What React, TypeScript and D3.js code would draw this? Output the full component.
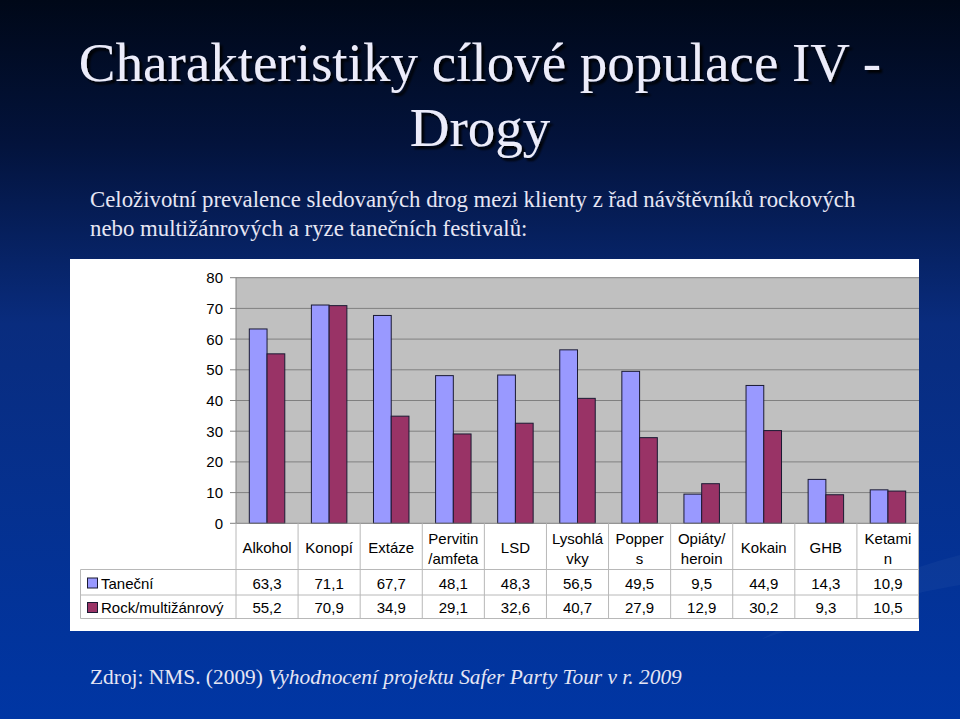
import React, { useEffect, useRef } from "react";
import * as d3 from "d3";

const categories = [
  ["Alkohol"],
  ["Konopí"],
  ["Extáze"],
  ["Pervitin", "/amfeta"],
  ["LSD"],
  ["Lysohlá", "vky"],
  ["Popper", "s"],
  ["Opiáty/", "heroin"],
  ["Kokain"],
  ["GHB"],
  ["Ketami", "n"],
];
const seriesNames = ["Taneční", "Rock/multižánrový"];
const tanecni = [63.3, 71.1, 67.7, 48.1, 48.3, 56.5, 49.5, 9.5, 44.9, 14.3, 10.9];
const rock = [55.2, 70.9, 34.9, 29.1, 32.6, 40.7, 27.9, 12.9, 30.2, 9.3, 10.5];
const yTicks = [0, 10, 20, 30, 40, 50, 60, 70, 80];
const seriesColors = ["#9999FF", "#993366"];

const W = 960;
const H = 719;

export default function App() {
  const ref = useRef<SVGSVGElement>(null);

  useEffect(() => {
    const svg = d3.select(ref.current);
    svg.selectAll("*").remove();

    const defs = svg.append("defs");
    const grad = defs
      .append("linearGradient")
      .attr("id", "bg")
      .attr("x1", 0)
      .attr("y1", 0)
      .attr("x2", 0)
      .attr("y2", 1);
    grad.append("stop").attr("offset", "0%").attr("stop-color", "#000818");
    grad.append("stop").attr("offset", "20%").attr("stop-color", "#03133c");
    grad.append("stop").attr("offset", "45%").attr("stop-color", "#092c7e");
    grad.append("stop").attr("offset", "100%").attr("stop-color", "#0036a4");

    const filt = defs.append("filter").attr("id", "shadow").attr("x", "-10%").attr("y", "-10%").attr("width", "120%").attr("height", "140%");
    filt
      .append("feDropShadow")
      .attr("dx", 3)
      .attr("dy", 3)
      .attr("stdDeviation", 1.2)
      .attr("flood-color", "#000000")
      .attr("flood-opacity", 0.9);

    svg.append("rect").attr("width", W).attr("height", H).attr("fill", "url(#bg)");

    // subtle swoosh on right
    svg
      .append("path")
      .attr("d", "M 760 640 C 830 600, 900 570, 960 555 L 960 585 C 900 595, 830 615, 760 640 Z")
      .attr("fill", "#ffffff")
      .attr("opacity", 0.035);

    const serif = "'Liberation Serif', 'Times New Roman', 'DejaVu Serif', serif";

    // Title
    const title = svg
      .append("text")
      .attr("font-family", serif)
      .attr("font-size", 55)
      .attr("fill", "#ececfa")
      .attr("text-anchor", "middle")
      .attr("filter", "url(#shadow)");
    title.append("tspan").attr("x", 480).attr("y", 81).text("Charakteristiky cílové populace IV -");
    title.append("tspan").attr("x", 480).attr("y", 146).text("Drogy");

    // Subtitle
    const sub = svg
      .append("text")
      .attr("font-family", serif)
      .attr("font-size", 22.8)
      .attr("fill", "#e6e6f4");
    sub.append("tspan").attr("x", 90).attr("y", 207).text("Celoživotní prevalence sledovaných drog mezi klienty z řad návštěvníků rockových");
    sub.append("tspan").attr("x", 90).attr("y", 236).text("nebo multižánrových a ryze tanečních festivalů:");

    // Footer
    const foot = svg
      .append("text")
      .attr("font-family", serif)
      .attr("font-size", 21.4)
      .attr("fill", "#e6e6f4")
      .attr("x", 90)
      .attr("y", 684);
    foot.append("tspan").text("Zdroj: NMS. (2009) ");
    foot.append("tspan").attr("font-style", "italic").text("Vyhodnocení projektu Safer Party Tour v r. 2009");

    // Chart white box
    const boxL = 70, boxT = 259, boxR = 919, boxB = 631;
    svg.append("rect").attr("x", boxL).attr("y", boxT).attr("width", boxR - boxL).attr("height", boxB - boxT).attr("fill", "#ffffff");

    const plotL = 236, plotR = 919, plotT = 277.7, plotB = 523.3;
    const x0 = d3.scaleBand<number>().domain(d3.range(categories.length)).range([plotL, plotR]).padding(0);
    const bw = x0.bandwidth();
    const gap = (bw * 1.5) / 3.5;
    const x1 = d3.scaleBand<number>().domain([0, 1]).range([gap / 2, bw - gap / 2]).padding(0);
    const y = d3.scaleLinear().domain([0, 80]).range([plotB, plotT]);

    svg.append("rect").attr("x", plotL).attr("y", plotT).attr("width", plotR - plotL).attr("height", plotB - plotT).attr("fill", "#C0C0C0");

    // gridlines
    svg
      .append("g")
      .selectAll("line")
      .data(yTicks.filter((t) => t > 0))
      .join("line")
      .attr("x1", plotL)
      .attr("x2", plotR)
      .attr("y1", (d) => y(d))
      .attr("y2", (d) => y(d))
      .attr("stroke", "#808080")
      .attr("stroke-width", 1);

    // bars
    const data = [tanecni, rock];
    const gBars = svg.append("g");
    data.forEach((vals, si) => {
      gBars
        .append("g")
        .selectAll("rect")
        .data(vals)
        .join("rect")
        .attr("x", (_d, i) => (x0(i) as number) + (x1(si) as number))
        .attr("y", (d) => y(d))
        .attr("width", x1.bandwidth())
        .attr("height", (d) => plotB - y(d))
        .attr("fill", seriesColors[si])
        .attr("stroke", "#1a1a33")
        .attr("stroke-width", 1);
    });

    // axis line & ticks
    svg.append("line").attr("x1", plotL).attr("x2", plotL).attr("y1", plotT).attr("y2", plotB).attr("stroke", "#808080");
    svg.append("line").attr("x1", plotL).attr("x2", plotR).attr("y1", plotB).attr("y2", plotB).attr("stroke", "#808080");
    const gy = svg.append("g");
    gy.selectAll("line")
      .data(yTicks)
      .join("line")
      .attr("x1", plotL - 6)
      .attr("x2", plotL)
      .attr("y1", (d) => y(d))
      .attr("y2", (d) => y(d))
      .attr("stroke", "#808080");
    gy.selectAll("text")
      .data(yTicks)
      .join("text")
      .attr("x", 223)
      .attr("y", (d) => y(d) + 5.5)
      .attr("text-anchor", "end")
      .attr("font-family", "'Liberation Sans', Arial, sans-serif")
      .attr("font-size", 15)
      .attr("fill", "#000")
      .text((d) => d);

    // data table
    const row1T = 569.5, row2T = 595, tableB = 618.5, tableL = 80.5;
    const lineColor = "#b8b8b8";
    const gt = svg.append("g").attr("stroke", lineColor).attr("stroke-width", 1);
    [row1T, row2T, tableB].forEach((yy) => {
      gt.append("line").attr("x1", tableL).attr("x2", plotR).attr("y1", yy).attr("y2", yy);
    });
    gt.append("line").attr("x1", tableL).attr("x2", tableL).attr("y1", row1T).attr("y2", tableB);
    d3.range(categories.length + 1).forEach((i) => {
      const xx = i < categories.length ? (x0(i) as number) : plotR - 0.5;
      gt.append("line").attr("x1", xx).attr("x2", xx).attr("y1", plotB).attr("y2", tableB);
    });

    const font = "'Liberation Sans', Arial, sans-serif";
    // category labels
    const gc = svg.append("g").attr("font-family", font).attr("font-size", 15).attr("fill", "#000").attr("text-anchor", "middle");
    categories.forEach((lines, i) => {
      const cx = (x0(i) as number) + bw / 2;
      const t = gc.append("text");
      if (lines.length === 1) {
        t.append("tspan").attr("x", cx).attr("y", 552.5).text(lines[0]);
      } else {
        t.append("tspan").attr("x", cx).attr("y", 543.5).text(lines[0]);
        t.append("tspan").attr("x", cx).attr("y", 563.5).text(lines[1]);
      }
    });

    // values
    const fmt = (v: number) => v.toFixed(1).replace(".", ",");
    data.forEach((vals, si) => {
      const yy = si === 0 ? 588.5 : 613;
      svg
        .append("g")
        .selectAll("text")
        .data(vals)
        .join("text")
        .attr("x", (_d, i) => (x0(i) as number) + bw / 2)
        .attr("y", yy)
        .attr("text-anchor", "middle")
        .attr("font-family", font)
        .attr("font-size", 15)
        .attr("fill", "#000")
        .text((d) => fmt(d));
      svg
        .append("rect")
        .attr("x", 87.5)
        .attr("y", yy - 10.5)
        .attr("width", 10)
        .attr("height", 10)
        .attr("fill", seriesColors[si])
        .attr("stroke", "#1a1a33");
      svg
        .append("text")
        .attr("x", 101)
        .attr("y", yy)
        .attr("font-family", font)
        .attr("font-size", 15)
        .attr("fill", "#000")
        .text(seriesNames[si]);
    });
  }, []);

  return (
    <div style={{ position: "fixed", left: 0, top: 0, width: W, height: H }}>
      <svg ref={ref} width={W} height={H} style={{ display: "block" }} />
    </div>
  );
}
